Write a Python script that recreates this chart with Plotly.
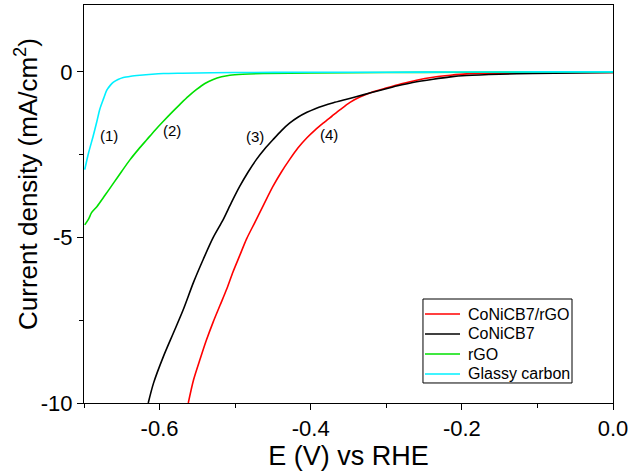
import plotly.graph_objects as go

# Glassy carbon (1)
gc_x = [-0.699, -0.694, -0.688, -0.683, -0.679, -0.674, -0.670, -0.665, -0.661, -0.655, -0.648, -0.638, -0.626, -0.61, -0.595, -0.57, -0.50, -0.40, -0.30, -0.20, -0.10, 0.0]
gc_y = [-2.95, -2.45, -1.95, -1.50, -1.12, -0.80, -0.56, -0.40, -0.31, -0.23, -0.17, -0.13, -0.10, -0.07, -0.05, -0.04, -0.02, -0.01, -0.01, -0.005, 0.0, 0.0]

# rGO (2)
rgo_x = [-0.699, -0.694, -0.690, -0.683, -0.672, -0.661, -0.650, -0.639, -0.628, -0.617, -0.606, -0.595, -0.584, -0.573, -0.562, -0.551, -0.540, -0.529, -0.518, -0.507, -0.490, -0.463, -0.40, -0.30, -0.20, -0.10, 0.0]
rgo_y = [-4.62, -4.45, -4.25, -4.07, -3.72, -3.36, -3.00, -2.65, -2.34, -2.05, -1.76, -1.49, -1.23, -0.98, -0.74, -0.53, -0.35, -0.23, -0.15, -0.10, -0.07, -0.05, -0.03, -0.02, -0.01, -0.005, 0.0]

# CoNiCB7 (3)
cob_x = [-0.615, -0.608, -0.595, -0.582, -0.569, -0.555, -0.542, -0.529, -0.516, -0.505, -0.494, -0.483, -0.472, -0.461, -0.450, -0.439, -0.428, -0.417, -0.405, -0.394, -0.383, -0.370, -0.355, -0.340, -0.322, -0.304, -0.285, -0.265, -0.238, -0.215, -0.194, -0.15, -0.106, -0.05, 0.0]
cob_y = [-10.0, -9.40, -8.60, -7.90, -7.20, -6.35, -5.65, -5.00, -4.47, -3.95, -3.46, -3.03, -2.65, -2.33, -2.05, -1.78, -1.55, -1.37, -1.22, -1.11, -1.02, -0.93, -0.84, -0.75, -0.64, -0.53, -0.42, -0.32, -0.22, -0.15, -0.11, -0.07, -0.05, -0.03, -0.02]

# CoNiCB7/rGO (4)
cor_x = [-0.562, -0.555, -0.546, -0.538, -0.529, -0.520, -0.511, -0.503, -0.494, -0.485, -0.474, -0.462, -0.450, -0.439, -0.428, -0.417, -0.405, -0.394, -0.383, -0.372, -0.361, -0.348, -0.335, -0.320, -0.299, -0.280, -0.260, -0.238, -0.215, -0.194, -0.15, -0.106, -0.05, 0.0]
cor_y = [-10.0, -9.30, -8.65, -8.10, -7.55, -7.05, -6.55, -6.05, -5.55, -5.05, -4.55, -4.00, -3.46, -3.03, -2.65, -2.30, -1.99, -1.75, -1.54, -1.34, -1.14, -0.92, -0.76, -0.62, -0.48, -0.36, -0.25, -0.16, -0.10, -0.06, -0.04, -0.03, -0.02, -0.02]

series_names = ["CoNiCB7/rGO", "CoNiCB7", "rGO", "Glassy carbon"]
series_colors = ["#ff0000", "#000000", "#00e000", "#00f0ff"]

x_tickvals = [-0.6, -0.4, -0.2, 0.0]
x_ticktext = ["-0.6", "-0.4", "-0.2", "0.0"]
y_tickvals = [0, -5, -10]
y_ticktext = ["0", "-5", "-10"]

label_text = ["(1)", "(2)", "(3)", "(4)"]
label_x = [-0.6665, -0.583, -0.474, -0.3754]
label_y = [-1.92, -1.78, -1.94, -1.88]

FONT = "Liberation Sans, Arial, sans-serif"

fig = go.Figure()
series_data = [(cor_x, cor_y), (cob_x, cob_y), (rgo_x, rgo_y), (gc_x, gc_y)]
for name, (xs, ys), col in zip(series_names, series_data, series_colors):
    fig.add_trace(go.Scatter(x=xs, y=ys, mode="lines", name=name, showlegend=False,
                             line=dict(color=col, width=1.6, shape="spline", smoothing=0.8)))

for t, lx, ly in zip(label_text, label_x, label_y):
    fig.add_annotation(x=lx, y=ly, text=t, showarrow=False,
                       font=dict(family=FONT, size=15, color="black"))

# Legend box (drawn in paper coordinates)
lg_x0, lg_x1, lg_y0, lg_y1 = 0.6408, 0.9225, 0.0503, 0.2613
fig.add_shape(type="rect", xref="paper", yref="paper", x0=lg_x0, x1=lg_x1, y0=lg_y0, y1=lg_y1,
              line=dict(color="black", width=1), fillcolor="white", layer="above")
row_y = [0.2236, 0.1734, 0.1231, 0.0729]
for name, col, ry in zip(series_names, series_colors, row_y):
    fig.add_shape(type="line", xref="paper", yref="paper", x0=0.6446, x1=0.7108, y0=ry, y1=ry,
                  line=dict(color=col, width=1.6), layer="above")
    fig.add_annotation(xref="paper", yref="paper", x=0.7221, y=ry, text=name, showarrow=False,
                       xanchor="left", yanchor="middle",
                       font=dict(family=FONT, size=16, color="black"))

# Y axis title
fig.add_annotation(xref="paper", yref="paper", x=-0.1078, y=0.5503,
                   text="Current density (mA/cm<sup>2</sup>)", textangle=-90, showarrow=False,
                   xanchor="center", yanchor="middle",
                   font=dict(family=FONT, size=26, color="black"))

fig.update_layout(
    width=633, height=475,
    margin=dict(l=84, r=20, t=5, b=72),
    paper_bgcolor="white", plot_bgcolor="white",
    font=dict(family=FONT, color="black"),
    showlegend=False,
    xaxis=dict(range=[-0.7, 0.0], tickvals=x_tickvals, ticktext=x_ticktext,
               showgrid=False, zeroline=False, showline=True, linecolor="black", linewidth=1,
               mirror=True, ticks="outside", ticklen=6, tickcolor="black",
               minor=dict(dtick=0.1, tick0=0, ticks="outside", ticklen=4, tickcolor="black"),
               tickfont=dict(size=22, family=FONT),
               title=dict(text="E (V) vs RHE", font=dict(size=27, family=FONT), standoff=4)),
    yaxis=dict(range=[-10, 2.02], tickvals=y_tickvals, ticktext=y_ticktext,
               showgrid=False, zeroline=False, showline=True, linecolor="black", linewidth=1,
               mirror=True, ticks="outside", ticklen=6, tickcolor="black",
               minor=dict(dtick=2.5, tick0=0, ticks="outside", ticklen=4, tickcolor="black"),
               tickfont=dict(size=22, family=FONT)),
)

fig.write_html("out.html", config={"displayModeBar": False},
               post_script="document.body.style.margin='0';")
